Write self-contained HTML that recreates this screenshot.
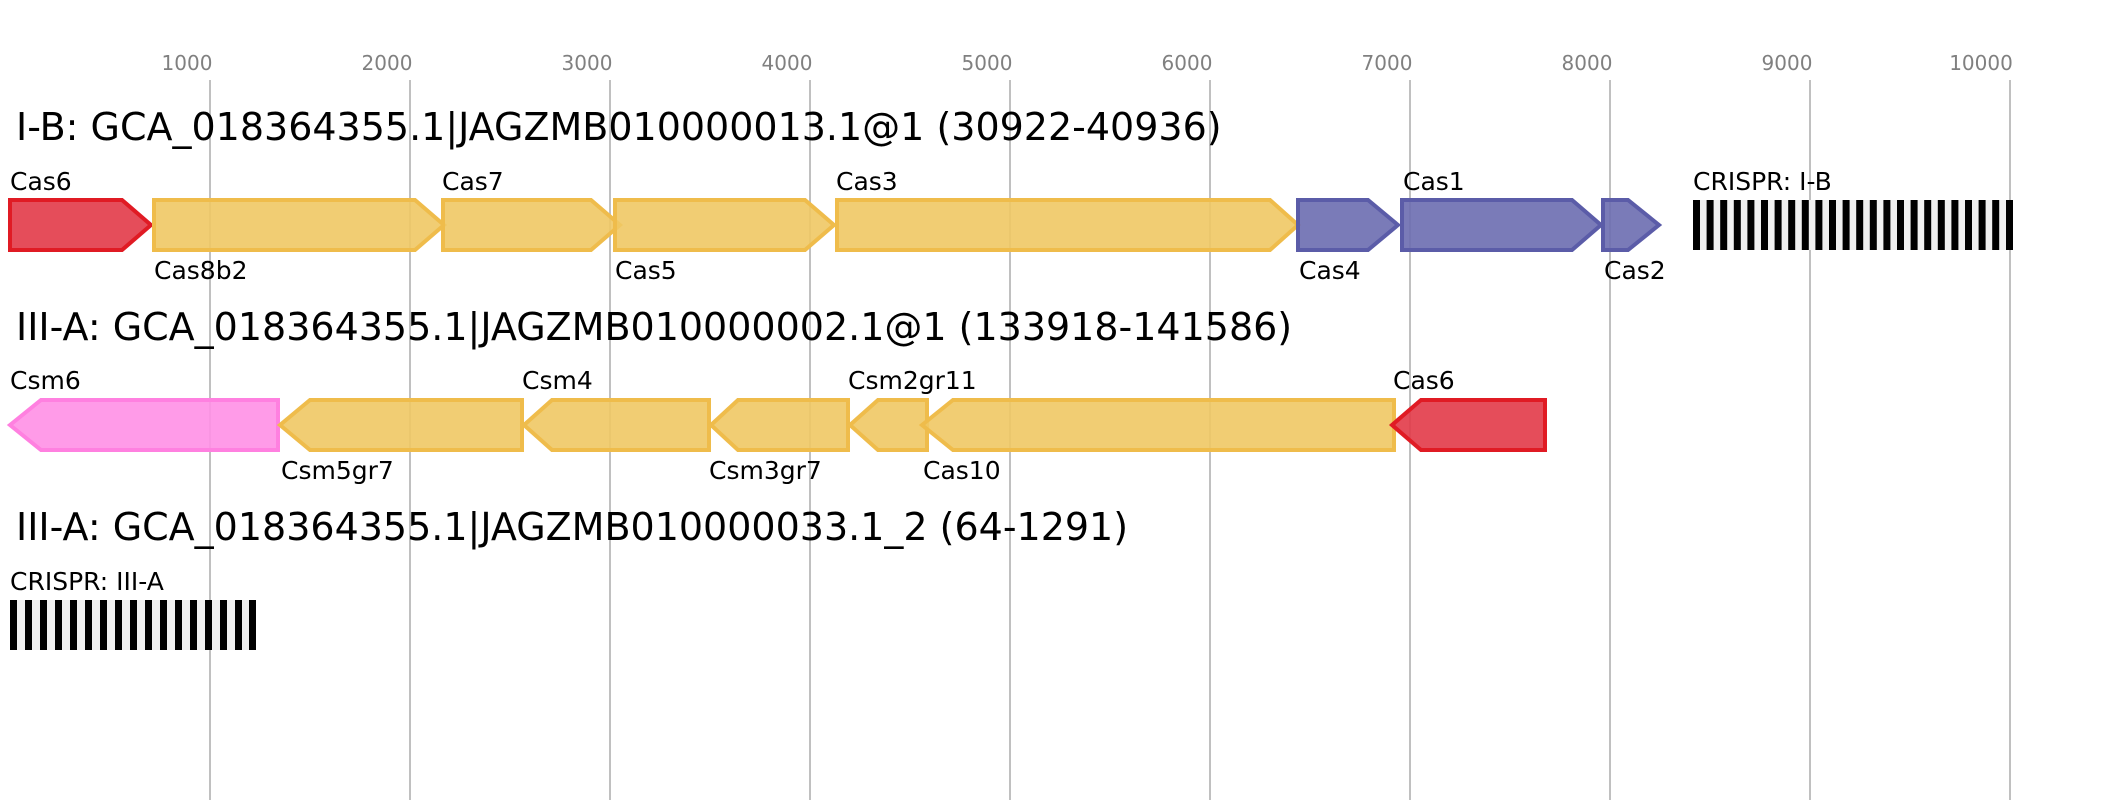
<!DOCTYPE html>
<html><head><meta charset="utf-8"><style>html,body{margin:0;padding:0;background:#fff}svg{display:block}</style></head>
<body>
<svg width="2103" height="800" viewBox="0 0 2103 800" xmlns="http://www.w3.org/2000/svg" font-family="DejaVu Sans, Liberation Sans, sans-serif">
<rect width="2103" height="800" fill="#fff"/>
<g stroke="#c0c0c0" stroke-width="2">
<line x1="210" y1="80" x2="210" y2="800"/><line x1="410" y1="80" x2="410" y2="800"/><line x1="610" y1="80" x2="610" y2="800"/><line x1="810" y1="80" x2="810" y2="800"/><line x1="1010" y1="80" x2="1010" y2="800"/><line x1="1210" y1="80" x2="1210" y2="800"/><line x1="1410" y1="80" x2="1410" y2="800"/><line x1="1610" y1="80" x2="1610" y2="800"/><line x1="1810" y1="80" x2="1810" y2="800"/><line x1="2010" y1="80" x2="2010" y2="800"/>
</g>
<g fill="#808080" font-size="20" text-anchor="middle">
<text x="187" y="70">1000</text><text x="387" y="70">2000</text><text x="587" y="70">3000</text><text x="787" y="70">4000</text><text x="987" y="70">5000</text><text x="1187" y="70">6000</text><text x="1387" y="70">7000</text><text x="1587" y="70">8000</text><text x="1787" y="70">9000</text><text x="1981" y="70">10000</text>
</g>
<g font-size="38" fill="#000">
<text x="16" y="140">I-B: GCA_018364355.1|JAGZMB010000013.1@1 (30922-40936)</text>
<text x="16" y="340">III-A: GCA_018364355.1|JAGZMB010000002.1@1 (133918-141586)</text>
<text x="16" y="540">III-A: GCA_018364355.1|JAGZMB010000033.1_2 (64-1291)</text>
</g>
<g stroke-width="4" stroke-linejoin="miter">
<polygon points="10,200 122,200 151,225 122,250 10,250" fill="#e23a48" fill-opacity="0.9" stroke="#e01b24"/>
<polygon points="154,200 415,200 444,225 415,250 154,250" fill="#f0c864" fill-opacity="0.9" stroke="#efbc4b"/>
<polygon points="443,200 591,200 620,225 591,250 443,250" fill="#f0c864" fill-opacity="0.9" stroke="#efbc4b"/>
<polygon points="615,200 805,200 834,225 805,250 615,250" fill="#f0c864" fill-opacity="0.9" stroke="#efbc4b"/>
<polygon points="837,200 1270,200 1298,225 1270,250 837,250" fill="#f0c864" fill-opacity="0.9" stroke="#efbc4b"/>
<polygon points="1298,200 1368,200 1398,225 1368,250 1298,250" fill="#6b6db0" fill-opacity="0.9" stroke="#5b5ca8"/>
<polygon points="1402,200 1572,200 1601,225 1572,250 1402,250" fill="#6b6db0" fill-opacity="0.9" stroke="#5b5ca8"/>
<polygon points="1603,200 1628,200 1659,225 1628,250 1603,250" fill="#6b6db0" fill-opacity="0.9" stroke="#5b5ca8"/>

<polygon points="10,425 41,400 278,400 278,450 41,450" fill="#ff90e6" fill-opacity="0.9" stroke="#ff80e0"/>
<polygon points="280,425 310,400 522,400 522,450 310,450" fill="#f0c864" fill-opacity="0.9" stroke="#efbc4b"/>
<polygon points="524,425 552,400 709,400 709,450 552,450" fill="#f0c864" fill-opacity="0.9" stroke="#efbc4b"/>
<polygon points="711,425 738,400 848,400 848,450 738,450" fill="#f0c864" fill-opacity="0.9" stroke="#efbc4b"/>
<polygon points="850,425 878,400 927,400 927,450 878,450" fill="#f0c864" fill-opacity="0.9" stroke="#efbc4b"/>
<polygon points="922,425 953,400 1394,400 1394,450 953,450" fill="#f0c864" fill-opacity="0.9" stroke="#efbc4b"/>
<polygon points="1392,425 1421,400 1545,400 1545,450 1421,450" fill="#e23a48" fill-opacity="0.9" stroke="#e01b24"/>
</g>
<g font-size="25" fill="#000">
<text x="10" y="190">Cas6</text>
<text x="154" y="279">Cas8b2</text>
<text x="442" y="190">Cas7</text>
<text x="615" y="279">Cas5</text>
<text x="836" y="190">Cas3</text>
<text x="1299" y="279">Cas4</text>
<text x="1403" y="190">Cas1</text>
<text x="1604" y="279">Cas2</text>
<text x="1693" y="190">CRISPR: I-B</text>
<text x="10" y="389">Csm6</text>
<text x="281" y="479">Csm5gr7</text>
<text x="522" y="389">Csm4</text>
<text x="709" y="479">Csm3gr7</text>
<text x="848" y="389">Csm2gr11</text>
<text x="923" y="479">Cas10</text>
<text x="1393" y="389">Cas6</text>
<text x="10" y="590">CRISPR: III-A</text>
</g>
<rect x="1693" y="200" width="320" height="50" fill="#f0f0f0"/>
<g fill="#000">
<rect x="1693" y="200" width="7" height="50"/><rect x="1706.6" y="200" width="7" height="50"/><rect x="1720.2" y="200" width="7" height="50"/><rect x="1733.8" y="200" width="7" height="50"/><rect x="1747.4" y="200" width="7" height="50"/><rect x="1761" y="200" width="7" height="50"/><rect x="1774.6" y="200" width="7" height="50"/><rect x="1788.2" y="200" width="7" height="50"/><rect x="1801.8" y="200" width="7" height="50"/><rect x="1815.4" y="200" width="7" height="50"/><rect x="1829" y="200" width="7" height="50"/><rect x="1842.6" y="200" width="7" height="50"/><rect x="1856.2" y="200" width="7" height="50"/><rect x="1869.8" y="200" width="7" height="50"/><rect x="1883.4" y="200" width="7" height="50"/><rect x="1897" y="200" width="7" height="50"/><rect x="1910.6" y="200" width="7" height="50"/><rect x="1924.2" y="200" width="7" height="50"/><rect x="1937.8" y="200" width="7" height="50"/><rect x="1951.4" y="200" width="7" height="50"/><rect x="1965" y="200" width="7" height="50"/><rect x="1978.6" y="200" width="7" height="50"/><rect x="1992.2" y="200" width="7" height="50"/><rect x="2006" y="200" width="7" height="50"/>
</g>
<rect x="10" y="600" width="246" height="50" fill="#f0f0f0"/>
<g fill="#000">
<rect x="10" y="600" width="7" height="50"/><rect x="25" y="600" width="7" height="50"/><rect x="40" y="600" width="7" height="50"/><rect x="55" y="600" width="7" height="50"/><rect x="70" y="600" width="7" height="50"/><rect x="85" y="600" width="7" height="50"/><rect x="100" y="600" width="7" height="50"/><rect x="115" y="600" width="7" height="50"/><rect x="130" y="600" width="7" height="50"/><rect x="145" y="600" width="7" height="50"/><rect x="160" y="600" width="7" height="50"/><rect x="175" y="600" width="7" height="50"/><rect x="190" y="600" width="7" height="50"/><rect x="205" y="600" width="7" height="50"/><rect x="220" y="600" width="7" height="50"/><rect x="235" y="600" width="7" height="50"/><rect x="249" y="600" width="7" height="50"/>
</g>
</svg>
</body></html>
